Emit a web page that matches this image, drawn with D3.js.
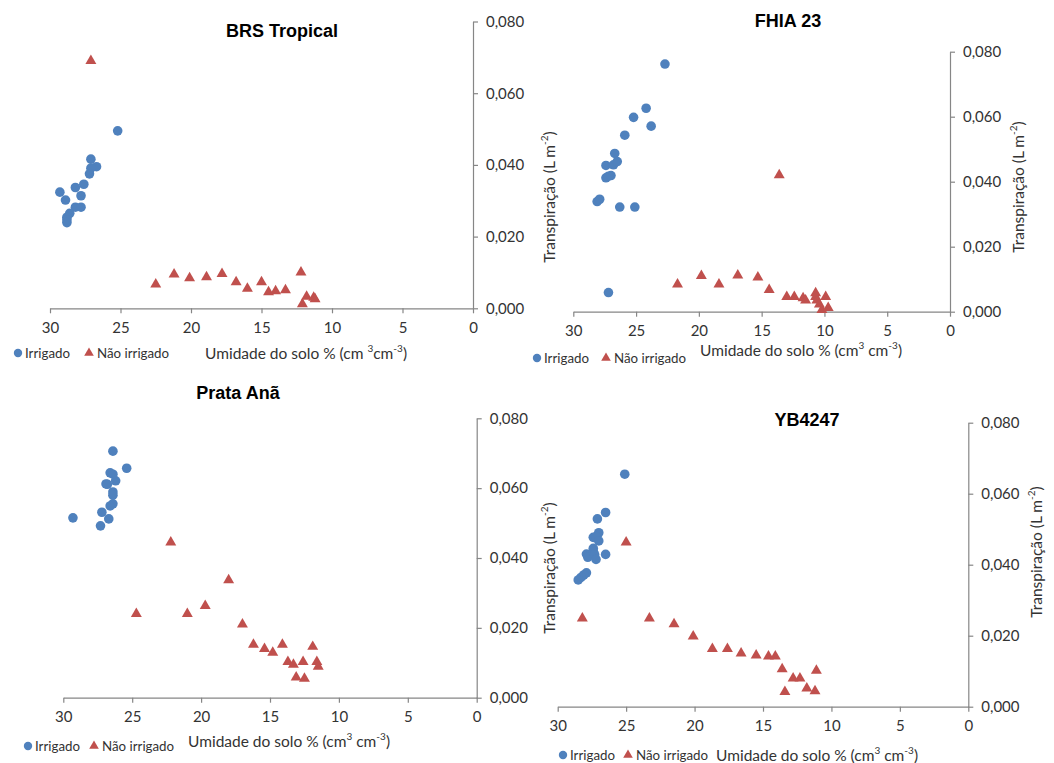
<!DOCTYPE html>
<html>
<head>
<meta charset="utf-8">
<script src="https://cdn.jsdelivr.net/npm/d3@7"></script>
<style>
  body { margin: 0; background: #fff; }
  svg { display: block; }
</style>
</head>
<body>
<div id="chart"></div>
<script>
// soil moisture (%) and transpiration (L m-2)
const brsIrrX = [25.2, 27.1, 26.7, 27.1, 27.2, 27.6, 28.2, 29.3, 27.8, 28.9, 28.2, 27.8, 28.6, 28.8, 28.8, 28.8];
const brsIrrY = [0.0495, 0.0416, 0.0395, 0.0391, 0.0375, 0.0346, 0.0337, 0.0324, 0.0314, 0.0302, 0.0282, 0.0282, 0.0265, 0.0254, 0.0247, 0.0239];
const brsNaoX = [27.1, 22.5, 21.2, 20.1, 18.9, 17.8, 16.8, 16.0, 15.0, 14.5, 14.0, 13.3, 12.2, 11.8, 11.3, 11.2, 12.1];
const brsNaoY = [0.0690, 0.0067, 0.0095, 0.0084, 0.0087, 0.0096, 0.0073, 0.0055, 0.0073, 0.0045, 0.0048, 0.0051, 0.0100, 0.0033, 0.0030, 0.0026, 0.0012];

const fhiaIrrX = [22.7, 24.2, 25.2, 23.8, 25.9, 26.7, 27.4, 26.8, 26.5, 27.4, 27.0, 27.2, 28.1, 27.9, 26.3, 25.1, 27.2];
const fhiaIrrY = [0.0762, 0.0626, 0.0598, 0.0571, 0.0543, 0.0487, 0.0450, 0.0452, 0.0462, 0.0412, 0.0419, 0.0417, 0.0339, 0.0346, 0.0322, 0.0322, 0.0059];
const fhiaNaoX = [13.6, 21.7, 19.8, 18.4, 16.9, 15.3, 14.4, 13.0, 12.4, 11.7, 11.5, 10.7, 10.7, 10.6, 10.4, 10.2, 9.9, 9.7];
const fhiaNaoY = [0.0420, 0.0084, 0.0110, 0.0084, 0.0112, 0.0106, 0.0067, 0.0046, 0.0046, 0.0042, 0.0035, 0.0057, 0.0046, 0.0035, 0.0023, 0.0006, 0.0046, 0.0012];

const prataIrrX = [26.4, 25.4, 26.6, 26.4, 26.2, 26.9, 26.8, 26.4, 26.4, 26.4, 26.6, 27.2, 29.3, 26.7, 27.3];
const prataIrrY = [0.0706, 0.0657, 0.0644, 0.0640, 0.0621, 0.0612, 0.0611, 0.0589, 0.0580, 0.0555, 0.0549, 0.0531, 0.0515, 0.0512, 0.0492];
const prataNaoX = [22.2, 18.0, 24.7, 21.0, 19.7, 17.0, 16.2, 15.4, 14.8, 14.1, 13.7, 13.3, 12.6, 11.9, 11.6, 11.5, 13.1, 12.5];
const prataNaoY = [0.0445, 0.0337, 0.0240, 0.0240, 0.0263, 0.0210, 0.0152, 0.0140, 0.0129, 0.0152, 0.0103, 0.0095, 0.0103, 0.0146, 0.0103, 0.0089, 0.0058, 0.0055];

const ybIrrX = [25.1, 26.5, 27.1, 27.0, 27.4, 27.2, 27.0, 27.4, 27.4, 27.9, 27.6, 27.8, 27.3, 27.2, 26.5, 27.9, 28.1, 28.3, 28.5];
const ybIrrY = [0.0655, 0.0547, 0.0529, 0.0490, 0.0477, 0.0479, 0.0467, 0.0446, 0.0438, 0.0430, 0.0428, 0.0421, 0.0428, 0.0415, 0.0429, 0.0377, 0.0371, 0.0364, 0.0357];
const ybNaoX = [25.0, 28.2, 23.3, 21.5, 20.1, 18.7, 17.6, 16.6, 15.5, 14.6, 14.1, 13.6, 12.8, 12.3, 11.1, 11.8, 11.2, 13.4];
const ybNaoY = [0.0463, 0.0249, 0.0249, 0.0233, 0.0198, 0.0163, 0.0163, 0.0150, 0.0145, 0.0142, 0.0142, 0.0106, 0.0080, 0.0080, 0.0102, 0.0052, 0.0044, 0.0042];

const xTicks = [30, 25, 20, 15, 10, 5, 0];
const yTicks = [0, 0.02, 0.04, 0.06, 0.08];
const seriesNames = ["Irrigado", "Não irrigado"];

const BLUE = "#4f81bd";
const RED = "#c0504d";
const AXIS = "#868686";
const TEXT = "#333";
const FONT = "Lato, 'Open Sans', sans-serif";

// panel layout (pixel boxes)
const panels = [
  { title: "BRS Tropical", irrX: brsIrrX, irrY: brsIrrY, naoX: brsNaoX, naoY: brsNaoY,
    left: 50, right: 473, top: 21.5, bottom: 308.3, titleX: 282, titleY: 31,
    legX: 18, legY: 353, legGap: 71, axTitleX: 205, axTitleY: 353, unitA: "(cm ", unitB: "cm",
    yTitleX: 549, yTitleY: 197 },
  { title: "FHIA 23", irrX: fhiaIrrX, irrY: fhiaIrrY, naoX: fhiaNaoX, naoY: fhiaNaoY,
    left: 573.3, right: 950, top: 51.7, bottom: 311.7, titleX: 788, titleY: 21,
    legX: 537, legY: 358, legGap: 69, axTitleX: 700, axTitleY: 350, unitA: "(cm", unitB: " cm",
    yTitleX: 1018, yTitleY: 187 },
  { title: "Prata Anã", irrX: prataIrrX, irrY: prataIrrY, naoX: prataNaoX, naoY: prataNaoY,
    left: 63.3, right: 476.7, top: 418.3, bottom: 697.7, titleX: 238, titleY: 393,
    legX: 28, legY: 746, legGap: 66, axTitleX: 188, axTitleY: 741, unitA: "(cm", unitB: " cm",
    yTitleX: 549, yTitleY: 568 },
  { title: "YB4247", irrX: ybIrrX, irrY: ybIrrY, naoX: ybNaoX, naoY: ybNaoY,
    left: 557.7, right: 968.3, top: 422.7, bottom: 706.7, titleX: 807, titleY: 420,
    legX: 563, legY: 755, legGap: 65, axTitleX: 716, axTitleY: 755, unitA: "(cm", unitB: " cm",
    yTitleX: 1036, yTitleY: 552 }
];

const svg = d3.select("#chart").append("svg")
  .attr("width", 1054)
  .attr("height", 763)
  .style("font-family", FONT);

const fmt = v => d3.format(".3f")(v).replace(".", ",");
const triangle = d3.symbol().type(d3.symbolTriangle).size(52);

panels.forEach(p => {
  const x = d3.scaleLinear().domain([30, 0]).range([p.left, p.right]);
  const y = d3.scaleLinear().domain([0, 0.08]).range([p.bottom, p.top]);
  const g = svg.append("g");

  // x axis
  const gx = g.append("g")
    .attr("transform", `translate(0,${p.bottom})`)
    .call(d3.axisBottom(x).tickValues(xTicks).tickSize(5).tickPadding(9).tickSizeOuter(0));
  // right y axis
  const gy = g.append("g")
    .attr("transform", `translate(${p.right},0)`)
    .call(d3.axisRight(y).tickValues(yTicks).tickFormat(fmt).tickSize(5).tickPadding(8).tickSizeOuter(0));

  [gx, gy].forEach(a => {
    a.select(".domain").attr("stroke", AXIS).attr("stroke-width", 1.2);
    a.selectAll(".tick line").attr("stroke", AXIS).attr("stroke-width", 1.2);
    a.selectAll(".tick text").attr("fill", TEXT).style("font-size", "15px").style("font-family", FONT);
  });

  // points
  g.append("g").selectAll("circle")
    .data(d3.zip(p.irrX, p.irrY))
    .join("circle")
    .attr("cx", d => x(d[0]))
    .attr("cy", d => y(d[1]))
    .attr("r", 4.8)
    .attr("fill", BLUE);

  g.append("g").selectAll("path")
    .data(d3.zip(p.naoX, p.naoY))
    .join("path")
    .attr("d", triangle)
    .attr("transform", d => `translate(${x(d[0])},${y(d[1])})`)
    .attr("fill", RED);

  // title
  g.append("text")
    .attr("x", p.titleX)
    .attr("y", p.titleY)
    .attr("text-anchor", "middle")
    .attr("dominant-baseline", "central")
    .style("font-family", "'Liberation Sans', Arial, sans-serif")
    .style("font-weight", "bold")
    .style("font-size", "18px")
    .attr("fill", "#000")
    .text(p.title);

  // legend
  const leg = g.append("g").attr("transform", `translate(${p.legX},${p.legY})`);
  leg.append("circle").attr("cx", 0).attr("cy", 0).attr("r", 4.2).attr("fill", BLUE);
  leg.append("text").attr("x", 7).attr("y", 0).attr("dominant-baseline", "central")
    .style("font-size", "13.3px").attr("fill", TEXT).text(seriesNames[0]);
  leg.append("path").attr("d", d3.symbol().type(d3.symbolTriangle).size(40))
    .attr("transform", `translate(${p.legGap},0)`).attr("fill", RED);
  leg.append("text").attr("x", p.legGap + 8).attr("y", 0).attr("dominant-baseline", "central")
    .style("font-size", "13.3px").attr("fill", TEXT).text(seriesNames[1]);

  // x axis title
  const xt = g.append("text")
    .attr("x", p.axTitleX)
    .attr("y", p.axTitleY)
    .attr("dominant-baseline", "central")
    .style("font-size", "15.5px")
    .attr("fill", TEXT);
  xt.append("tspan").text("Umidade do solo % " + p.unitA);
  xt.append("tspan").attr("dy", -5).style("font-size", "10px").text("3");
  xt.append("tspan").attr("dy", 5).text(p.unitB);
  xt.append("tspan").attr("dy", -5).style("font-size", "10px").text("-3");
  xt.append("tspan").attr("dy", 5).text(")");

  // y axis title
  const yt = g.append("text")
    .attr("transform", `translate(${p.yTitleX},${p.yTitleY}) rotate(-90)`)
    .attr("text-anchor", "middle")
    .attr("dominant-baseline", "central")
    .style("font-size", "15.5px")
    .attr("fill", TEXT);
  yt.append("tspan").text("Transpiração (L m");
  yt.append("tspan").attr("dy", -5).style("font-size", "10px").text("-2");
  yt.append("tspan").attr("dy", 5).text(")");
});
</script>
</body>
</html>
